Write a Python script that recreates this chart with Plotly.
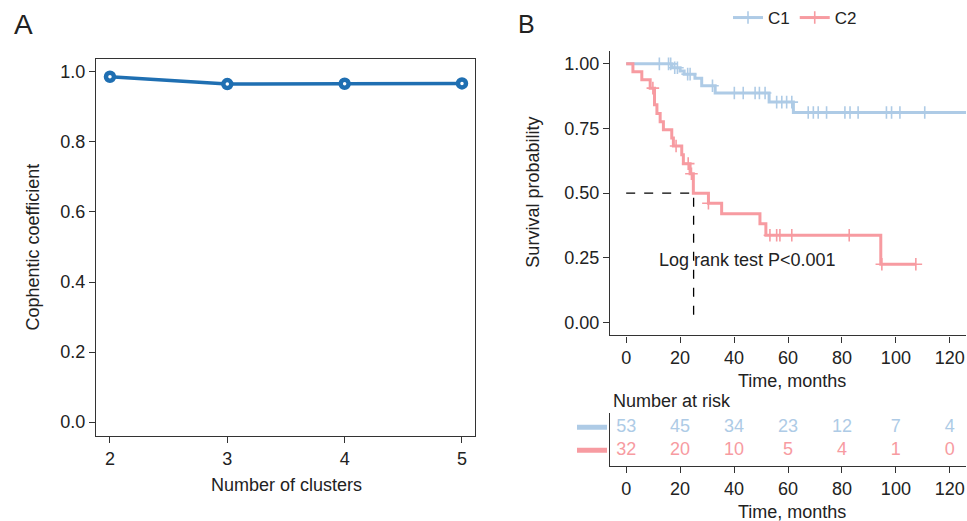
import plotly.graph_objects as go

W, H = 967, 521
FONT = "Liberation Sans, Arial, Helvetica, sans-serif"
INK = "#222222"
AXC = "#333333"

# ---------------- Panel A data ----------------
clusters = [2, 3, 4, 5]
cophenetic = [0.986, 0.965, 0.966, 0.967]
a_yticks = [0.0, 0.2, 0.4, 0.6, 0.8, 1.0]
LINE_A = "#1f6fb2"

# ---------------- Panel B data ----------------
C1_COLOR = "#aecbe6"
C2_COLOR = "#f79ba1"

c1_times = [0, 17, 20, 21.5, 25.5, 28, 33, 53, 62, 130]
c1_surv = [1.0, 0.985, 0.972, 0.96, 0.944, 0.915, 0.887, 0.852, 0.812, 0.812]
c1_cens_t = [12.3, 15.7, 16.5, 18.0, 19.0, 22.8, 23.7, 32.0, 40.1, 43.4, 47.8, 49.4, 51.5,
             55.8, 57.7, 59.5, 61.4, 67.5, 69.4, 71.2, 74.3, 81.1, 83.0, 86.0, 96.5, 98.4,
             101.5, 110.7]
c1_cens_s = [1.0, 1.0, 1.0, 0.985, 0.985, 0.96, 0.96, 0.915, 0.887, 0.887, 0.887, 0.887, 0.887,
             0.852, 0.852, 0.852, 0.852, 0.812, 0.812, 0.812, 0.812, 0.812, 0.812, 0.812, 0.812,
             0.812, 0.812, 0.812]

c2_times = [0, 2.5, 5.8, 8.9, 10.5, 11.4, 12.6, 13.8, 16.9, 17.5, 20.6, 21.2, 23.7, 24.9,
            30.5, 35.4, 49.6, 51.8, 94.4, 107.4]
c2_surv = [1.0, 0.969, 0.938, 0.906, 0.842, 0.808, 0.776, 0.745, 0.713, 0.682, 0.648, 0.614,
           0.575, 0.5, 0.461, 0.42, 0.382, 0.337, 0.225, 0.225]
c2_cens_t = [9.9, 18.5, 23.0, 24.2, 30.5, 53.3, 55.8, 57.0, 61.4, 82.7, 94.8, 107.4]
c2_cens_s = [0.906, 0.682, 0.614, 0.575, 0.461, 0.337, 0.337, 0.337, 0.337, 0.337, 0.225, 0.225]

median_c2 = 25
pval_text = "Log rank test P<0.001"

risk_times = [0, 20, 40, 60, 80, 100, 120]
risk_c1 = [53, 45, 34, 23, 12, 7, 4]
risk_c2 = [32, 20, 10, 5, 4, 1, 0]
b_xticks = [0, 20, 40, 60, 80, 100, 120]
b_yticks = [0.0, 0.25, 0.5, 0.75, 1.0]

fig = go.Figure()

# Panel A
fig.add_trace(go.Scatter(
    x=clusters, y=cophenetic, mode="lines+markers", xaxis="x", yaxis="y",
    line=dict(color=LINE_A, width=3.5),
    marker=dict(symbol="circle", size=8, color="white", line=dict(color=LINE_A, width=4.5)),
    showlegend=False, hoverinfo="skip"))

# Panel B curves
fig.add_trace(go.Scatter(x=c1_times, y=c1_surv, mode="lines", line_shape="hv",
                         line=dict(color=C1_COLOR, width=3), xaxis="x2", yaxis="y2",
                         showlegend=False))
fig.add_trace(go.Scatter(x=c2_times, y=c2_surv, mode="lines", line_shape="hv",
                         line=dict(color=C2_COLOR, width=3), xaxis="x2", yaxis="y2",
                         showlegend=False))
fig.add_trace(go.Scatter(x=c1_cens_t, y=c1_cens_s, mode="markers", xaxis="x2", yaxis="y2",
                         marker=dict(symbol="cross-thin", size=9,
                                     line=dict(color=C1_COLOR, width=1.6)),
                         showlegend=False))
fig.add_trace(go.Scatter(x=c2_cens_t, y=c2_cens_s, mode="markers", xaxis="x2", yaxis="y2",
                         marker=dict(symbol="cross-thin", size=9,
                                     line=dict(color=C2_COLOR, width=1.6)),
                         showlegend=False))
# median lines
fig.add_trace(go.Scatter(x=[0, median_c2, median_c2], y=[0.5, 0.5, 0.0], mode="lines",
                         line=dict(color="black", width=1.3, dash="dash"),
                         xaxis="x2", yaxis="y2", showlegend=False))

# legend entries
for name, col in [("C1", C1_COLOR), ("C2", C2_COLOR)]:
    fig.add_trace(go.Scatter(x=[None], y=[None], mode="lines+markers", name=name,
                             line=dict(color=col, width=3),
                             marker=dict(symbol="cross-thin", size=9,
                                         line=dict(color=col, width=1.6)),
                             xaxis="x2", yaxis="y2"))

# risk table
fig.add_trace(go.Scatter(x=risk_times, y=[2] * len(risk_times), mode="text",
                         text=[str(v) for v in risk_c1],
                         textfont=dict(color=C1_COLOR, size=18, family=FONT),
                         xaxis="x3", yaxis="y3", showlegend=False))
fig.add_trace(go.Scatter(x=risk_times, y=[1] * len(risk_times), mode="text",
                         text=[str(v) for v in risk_c2],
                         textfont=dict(color=C2_COLOR, size=18, family=FONT),
                         xaxis="x3", yaxis="y3", showlegend=False))

def px_x(p):
    return p / W

def px_y(p):
    return 1 - p / H

axis_common = dict(showgrid=False, zeroline=False, showline=True, linecolor=AXC,
                   linewidth=1.3, ticks="outside", ticklen=6, tickcolor=AXC, tickwidth=1.2,
                   tickfont=dict(family=FONT, size=18, color=INK))

fig.update_layout(
    width=W, height=H, margin=dict(l=0, r=0, t=0, b=0),
    paper_bgcolor="white", plot_bgcolor="white",
    font=dict(family=FONT, size=18, color=INK),
    xaxis=dict(domain=[px_x(96), px_x(475)], range=[1.881, 5.111], tickvals=clusters,
               mirror=True, anchor="y", **axis_common),
    yaxis=dict(domain=[px_y(436), px_y(58)], range=[-0.040, 1.037], tickvals=a_yticks,
               tickformat=".1f", mirror=True, anchor="x", **axis_common),
    xaxis2=dict(domain=[px_x(610), px_x(966)], range=[-6, 126], tickvals=b_xticks,
                anchor="y2", **axis_common),
    yaxis2=dict(domain=[px_y(335), px_y(50)], range=[-0.05, 1.05], tickvals=b_yticks,
                tickformat=".2f", anchor="x2", **axis_common),
    xaxis3=dict(domain=[px_x(610), px_x(966)], range=[-6, 126], tickvals=b_xticks,
                anchor="y3", **axis_common),
    yaxis3=dict(domain=[px_y(466), px_y(413)], range=[0.304, 2.61], showgrid=False,
                zeroline=False, showline=True, linecolor=AXC, linewidth=1.3,
                showticklabels=False, ticks="", anchor="x3"),
    legend=dict(orientation="h", x=px_x(795), xanchor="center", y=px_y(17), yanchor="middle",
                font=dict(family=FONT, size=17, color=INK), itemwidth=30,
                bgcolor="rgba(0,0,0,0)", tracegroupgap=0),
)

ann = [
    dict(text="A", x=px_x(23), y=px_y(24), font=dict(size=28)),
    dict(text="B", x=px_x(526), y=px_y(23), font=dict(size=25)),
    dict(text="Number of clusters", x=px_x(286), y=px_y(485)),
    dict(text="Cophentic coefficient", x=px_x(33), y=px_y(247), textangle=-90),
    dict(text="Survival probability", x=px_x(533), y=px_y(192), textangle=-90),
    dict(text="Time, months", x=px_x(792), y=px_y(381)),
    dict(text="Number at risk", x=px_x(611), y=px_y(401), xanchor="left"),
    dict(text="Time, months", x=px_x(792), y=px_y(512)),
]
for a in ann:
    d = dict(xref="paper", yref="paper", showarrow=False, xanchor="center", yanchor="middle",
             font=dict(family=FONT, size=18, color=INK))
    f = a.pop("font", None)
    d.update(a)
    if f:
        d["font"] = dict(family=FONT, size=f["size"], color=INK)
    fig.add_annotation(**d)

fig.add_annotation(text=pval_text, x=45, y=0.24, xref="x2", yref="y2", showarrow=False,
                   font=dict(family=FONT, size=18, color=INK))

# colored row keys of the risk table
for row, col in [(2, C1_COLOR), (1, C2_COLOR)]:
    fig.add_shape(type="line", xref="paper", yref="y3", x0=px_x(577), x1=px_x(607),
                  y0=row, y1=row, line=dict(color=col, width=5))

fig.write_html("out.html")
